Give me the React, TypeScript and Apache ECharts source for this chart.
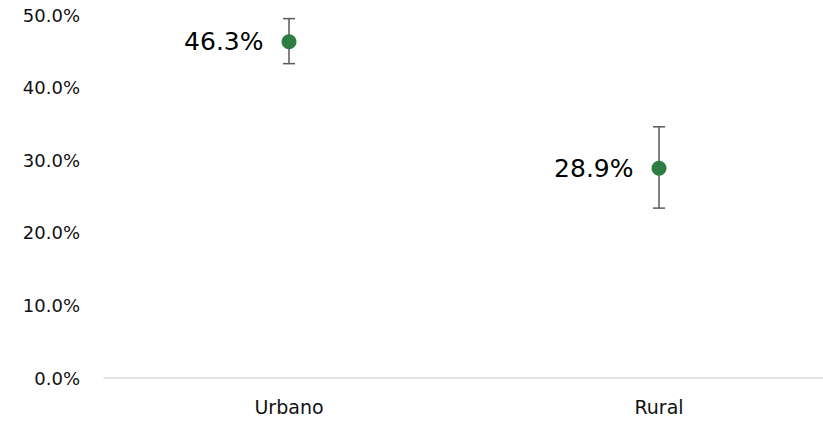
import React, { useEffect, useRef } from "react";
import * as echarts from "echarts";

const categories = ["Urbano", "Rural"];
const values = [46.3, 28.9];
const lowerBounds = [43.3, 23.4];
const upperBounds = [49.5, 34.6];
const yTicks = [0, 10, 20, 30, 40, 50];

export default function App() {
  const ref = useRef<HTMLDivElement>(null);
  useEffect(() => {
    if (!ref.current) return;
    const chart = echarts.init(ref.current, null, { renderer: "svg" });
    const errData = categories.map((c, i) => [i, lowerBounds[i], upperBounds[i]]);
    chart.setOption({
      animation: false,
      grid: { left: 104, right: 0, top: 15, bottom: 43 },
      xAxis: {
        type: "category",
        data: categories,
        axisLine: { show: true, lineStyle: { color: "#d9d9d9", width: 1.5 } },
        axisTick: { show: false },
        axisLabel: { color: "#111", fontSize: 19, fontFamily: "DejaVu Sans", margin: 19 },
      },
      yAxis: {
        type: "value",
        min: yTicks[0],
        max: yTicks[yTicks.length - 1],
        interval: 10,
        splitLine: { show: false },
        axisLine: { show: false },
        axisTick: { show: false },
        axisLabel: {
          color: "#111",
          fontSize: 18,
          fontFamily: "DejaVu Sans",
          margin: 24,
          formatter: (v: number) => v.toFixed(1) + "%",
        },
      },
      series: [
        {
          type: "custom",
          data: errData,
          z: 1,
          renderItem: (params: any, api: any) => {
            const x = api.coord([api.value(0), api.value(1)])[0];
            const lo = api.coord([api.value(0), api.value(1)])[1];
            const hi = api.coord([api.value(0), api.value(2)])[1];
            const half = 6;
            const style = { stroke: "#595959", lineWidth: 1.5 };
            return {
              type: "group",
              children: [
                { type: "line", shape: { x1: x, y1: lo, x2: x, y2: hi }, style },
                { type: "line", shape: { x1: x - half, y1: lo, x2: x + half, y2: lo }, style },
                { type: "line", shape: { x1: x - half, y1: hi, x2: x + half, y2: hi }, style },
              ],
            };
          },
        },
        {
          type: "scatter",
          data: values,
          z: 2,
          symbol: "circle",
          symbolSize: 15,
          itemStyle: { color: "#2e7d43", opacity: 1 },
          label: {
            show: true,
            position: "left",
            distance: 18,
            color: "#000",
            fontSize: 25,
            fontFamily: "DejaVu Sans",
            formatter: (p: any) => p.value.toFixed(1) + "%",
          },
        },
      ],
    });
    return () => chart.dispose();
  }, []);
  return (
    <div
      ref={ref}
      style={{ position: "fixed", left: 0, top: 0, width: 844, height: 421, background: "#fff" }}
    />
  );
}
